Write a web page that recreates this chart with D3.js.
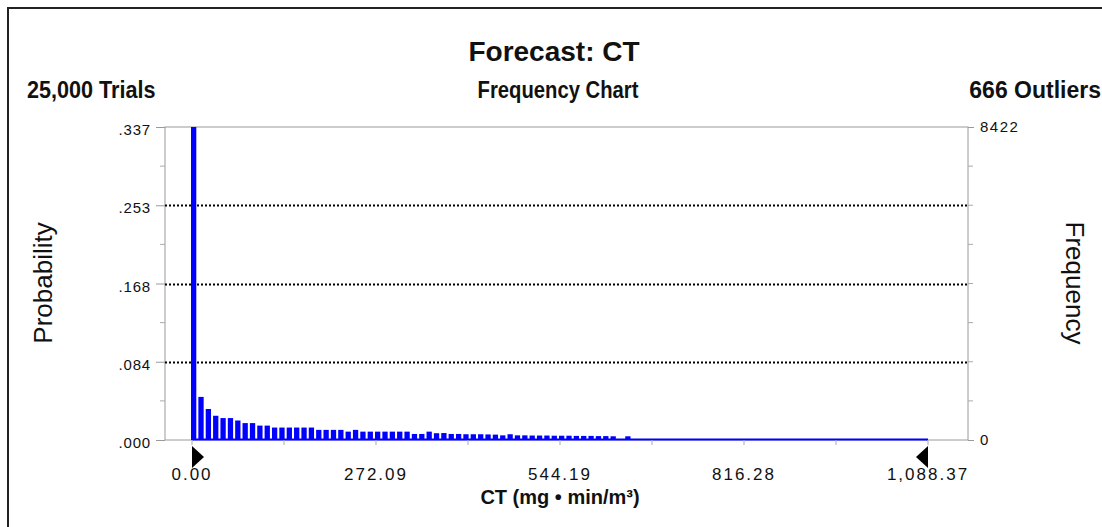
<!DOCTYPE html>
<html><head><meta charset="utf-8">
<script src="https://cdn.jsdelivr.net/npm/d3@7"></script>
<style>body{margin:0;background:#fff}svg{display:block}</style>
</head><body><svg id="c" width="1102" height="527"></svg>
<script>
// ---- data ----
const title = "Forecast: CT";
const subtitle = "Frequency Chart";
const trialsLabel = "25,000 Trials";
const outliersLabel = "666 Outliers";
const xAxisLabel = "CT (mg \u2022 min/m\u00B3)";
const leftAxisLabel = "Probability";
const rightAxisLabel = "Frequency";
const xMin = 0, xMax = 1088.37;
const binCount = 100;
const probMax = 0.337;
const freqMax = 8422;
// probability of each of the 100 bins (bin width = 10.8837)
const probabilities = [
  0.3370, 0.0464, 0.0334, 0.0261, 0.0236, 0.0236, 0.0210, 0.0182, 0.0182, 0.0155,
  0.0155, 0.0134, 0.0134, 0.0134, 0.0134, 0.0134, 0.0134, 0.0109, 0.0109, 0.0109,
  0.0109, 0.0090, 0.0109, 0.0090, 0.0090, 0.0090, 0.0090, 0.0090, 0.0090, 0.0090,
  0.0065, 0.0065, 0.0090, 0.0073, 0.0075, 0.0065, 0.0065, 0.0062, 0.0062, 0.0062,
  0.0060, 0.0058, 0.0050, 0.0062, 0.0050, 0.0050, 0.0048, 0.0048, 0.0048, 0.0046,
  0.0046, 0.0046, 0.0044, 0.0044, 0.0044, 0.0042, 0.0042, 0.0040, 0.0004, 0.0040,
  0.0003, 0.0003, 0.0003, 0.0003, 0.0003, 0.0003, 0.0003, 0.0003, 0.0003, 0.0003,
  0.0002, 0.0002, 0.0002, 0.0002, 0.0002, 0.0002, 0.0002, 0.0002, 0.0002, 0.0002,
  0.0002, 0.0002, 0.0002, 0.0002, 0.0002, 0.0002, 0.0002, 0.0002, 0.0002, 0.0002,
  0.0001, 0.0001, 0.0001, 0.0001, 0.0001, 0.0001, 0.0001, 0.0001, 0.0001, 0.0001
];
const leftTickValues = [0, 0.08425, 0.1685, 0.25275, 0.337];
const leftTickLabels = [".000", ".084", ".168", ".253", ".337"];
const rightTickValues = [0, 8422];
const rightTickLabels = ["0", "8422"];
const xTickValues = [0, 272.09, 544.19, 816.28, 1088.37];
const xTickLabels = ["0.00", "272.09", "544.19", "816.28", "1,088.37"];

// ---- layout ----
const svg = d3.select("#c");
const plot = {left: 165, right: 968, top: 127, bottom: 440};
const x = d3.scaleLinear().domain([xMin, xMax]).range([192, 928]);
const y = d3.scaleLinear().domain([0, probMax]).range([plot.bottom, plot.top]);
const yR = d3.scaleLinear().domain([0, freqMax]).range([plot.bottom, plot.top]);
const font = "'Liberation Sans', Arial, sans-serif";

// outer frame
svg.append("rect").attr("x", 8).attr("y", 8).attr("width", 1200).attr("height", 600)
  .attr("fill", "none").attr("stroke", "#222").attr("stroke-width", 2);

// condensed bold text helper
function narrow(tx, ty, anchor, size, sx, txt) {
  svg.append("g").attr("transform", `translate(${tx},${ty}) scale(${sx},1)`)
    .append("text").attr("text-anchor", anchor).attr("font-family", font)
    .attr("font-weight", "bold").attr("font-size", size).attr("fill", "#111").text(txt);
}
narrow(554, 61, "middle", 28, 1.0, title);
narrow(27, 98, "start", 23, 0.94, trialsLabel);
narrow(558, 98, "middle", 23, 0.88, subtitle);
narrow(1101, 98, "end", 23, 1.0, outliersLabel);

// plot frame
svg.append("rect").attr("x", plot.left).attr("y", plot.top)
  .attr("width", plot.right - plot.left).attr("height", plot.bottom - plot.top)
  .attr("fill", "none").attr("stroke", "#9a9a9a").attr("stroke-width", 1);

// gridlines
svg.append("g").selectAll("line").data(leftTickValues.slice(1, 4)).join("line")
  .attr("x1", plot.left).attr("x2", plot.right)
  .attr("y1", d => Math.round(y(d)) + 0.5).attr("y2", d => Math.round(y(d)) + 0.5)
  .attr("stroke", "#000").attr("stroke-width", 1.8).attr("stroke-dasharray", "2,2");

// left axis
const minorY = [];
for (let i = 0; i < leftTickValues.length - 1; i++) minorY.push((leftTickValues[i] + leftTickValues[i + 1]) / 2);
const leftAxis = d3.axisLeft(y).tickValues(leftTickValues).tickSize(9).tickPadding(5)
  .tickFormat((d, i) => leftTickLabels[i]);
const gL = svg.append("g").attr("transform", `translate(${plot.left},0)`).call(leftAxis);
gL.select(".domain").remove();
gL.selectAll("line").attr("stroke", "#9a9a9a");
gL.selectAll("text").attr("font-family", font).attr("font-size", 15).attr("letter-spacing", 0.8)
  .attr("fill", "#111").attr("dy", "0.5em");
svg.append("g").selectAll("line").data(minorY).join("line")
  .attr("x1", plot.left - 5).attr("x2", plot.left).attr("y1", d => y(d)).attr("y2", d => y(d))
  .attr("stroke", "#aaa");

// right axis
const rightAxis = d3.axisRight(yR).tickValues(rightTickValues).tickSize(6).tickPadding(6)
  .tickFormat((d, i) => rightTickLabels[i]);
const gR = svg.append("g").attr("transform", `translate(${plot.right},0)`).call(rightAxis);
gR.select(".domain").remove();
gR.selectAll("line").attr("stroke", "#9a9a9a");
gR.selectAll("text").attr("font-family", font).attr("font-size", 15).attr("letter-spacing", 1.5)
  .attr("fill", "#111").attr("dy", "0.3em");
svg.append("g").selectAll("line").data(leftTickValues.slice(1, 4).concat(minorY)).join("line")
  .attr("x1", plot.right).attr("x2", plot.right + 5).attr("y1", d => y(d)).attr("y2", d => y(d))
  .attr("stroke", "#aaa");

// bars
const binW = (xMax - xMin) / binCount;
const pitch = x(binW) - x(0);
svg.append("g").selectAll("rect").data(probabilities).join("rect")
  .attr("x", (d, i) => x(xMin + i * binW) - 1)
  .attr("width", pitch * 0.72)
  .attr("y", d => y(d))
  .attr("height", d => plot.bottom - y(d))
  .attr("fill", "#0000ff");
// baseline of the distribution range
svg.append("line").attr("x1", x(xMin)).attr("x2", x(xMax))
  .attr("y1", plot.bottom - 0.5).attr("y2", plot.bottom - 0.5)
  .attr("stroke", "#0000ff").attr("stroke-width", 2);

// x axis ticks
const minorX = [];
for (let i = 0; i < xTickValues.length - 1; i++) minorX.push((xTickValues[i] + xTickValues[i + 1]) / 2);
svg.append("g").selectAll("line").data(xTickValues.concat(minorX)).join("line")
  .attr("x1", d => x(d)).attr("x2", d => x(d)).attr("y1", plot.bottom).attr("y2", plot.bottom + 5)
  .attr("stroke", "#aaa");
svg.append("g").selectAll("text").data(xTickValues).join("text")
  .attr("x", d => x(d)).attr("y", 480).attr("text-anchor", "middle")
  .attr("font-family", font).attr("font-size", 17).attr("letter-spacing", 2).attr("fill", "#111")
  .text((d, i) => xTickLabels[i]);

// certainty grabbers
const tri = 12, triH = 11;
svg.append("path")
  .attr("d", `M${x(xMin)},${446}L${x(xMin) + tri},${446 + triH}L${x(xMin)},${446 + 2 * triH}Z`)
  .attr("fill", "#000");
svg.append("path")
  .attr("d", `M${x(xMax)},${446}L${x(xMax) - tri},${446 + triH}L${x(xMax)},${446 + 2 * triH}Z`)
  .attr("fill", "#000");

// axis titles
narrow(560, 504, "middle", 20, 1.0, xAxisLabel);
svg.append("text").attr("transform", "translate(52,283) rotate(-90)").attr("text-anchor", "middle")
  .attr("font-family", font).attr("font-size", 26).attr("fill", "#111").text(leftAxisLabel);
svg.append("text").attr("transform", "translate(1066,283) rotate(90)").attr("text-anchor", "middle")
  .attr("font-family", font).attr("font-size", 26).attr("fill", "#111").text(rightAxisLabel);
</script></body></html>
